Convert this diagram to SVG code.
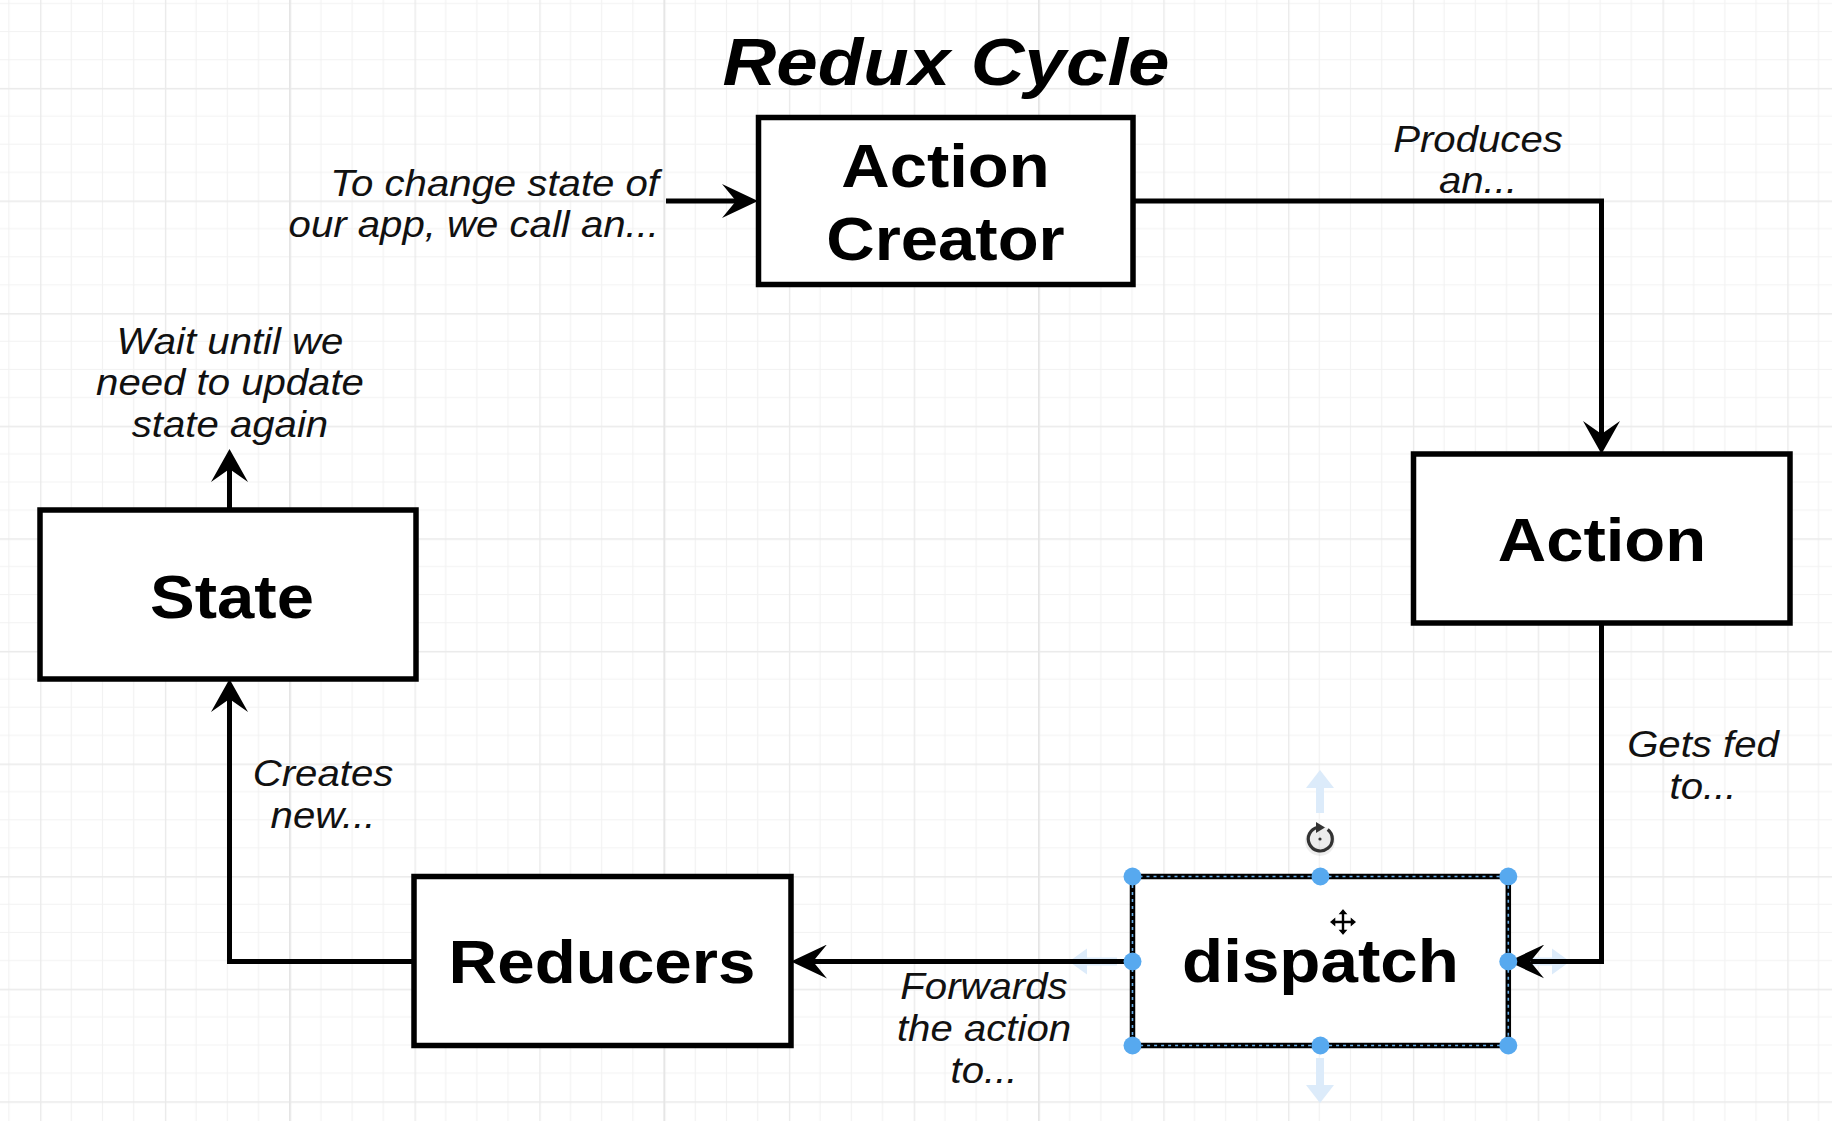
<svg xmlns="http://www.w3.org/2000/svg" width="1832" height="1121" viewBox="0 0 1832 1121">
<defs>
<pattern id="grid" patternUnits="userSpaceOnUse" x="40.1" y="87.9" width="124.8" height="112.6">
<path d="M31.2,0V112.6M62.4,0V112.6M93.6,0V112.6M0,28.15H124.8M0,56.3H124.8M0,84.45H124.8" stroke="#f2f2f2" stroke-width="1.2" fill="none"/>
<path d="M0.7,0V112.6M0,0.7H124.8" stroke="#eaeaea" stroke-width="1.4" fill="none"/>
</pattern>
<marker id="ah" markerUnits="userSpaceOnUse" viewBox="0 0 36 34" markerWidth="36" markerHeight="34" refX="14" refY="17" orient="auto"><path d="M0,0L36,17L0,34L14,17Z" fill="#000"/></marker>
<marker id="av" markerUnits="userSpaceOnUse" viewBox="0 0 33 37" markerWidth="33" markerHeight="37" refX="13" refY="18.5" orient="auto"><path d="M0,0L33,18.5L0,37L13,18.5Z" fill="#000"/></marker>
<style>
.box{fill:#fff;stroke:#000;stroke-width:5.5}
.node{font-family:"Liberation Sans",Arial,Helvetica,sans-serif;font-weight:bold;font-size:61.5px;fill:#000;text-anchor:middle}
.lbl{font-family:"Liberation Sans",Arial,Helvetica,sans-serif;font-style:italic;font-size:36.5px;fill:#111}
.title{font-family:"Liberation Sans",Arial,Helvetica,sans-serif;font-style:italic;font-weight:bold;font-size:66.5px;fill:#000;text-anchor:middle}
.edge{fill:none;stroke:#000;stroke-width:5}
.hover{fill:#dcebfa}
.handle{fill:#57a9ef}
</style>
</defs>
<rect width="1832" height="1121" fill="#fff"/>
<rect width="1832" height="1121" fill="url(#grid)"/>
<g stroke="#e5e5e5" stroke-width="1.4">
<path d="M289.7,0V1121M664.1,0V1121M1038.7,0V1121"/>
</g>

<g id="title"><g transform="translate(946,0) scale(1.12,1)"><text class="title" x="0" y="85">Redux Cycle</text></g></g>

<g id="hover-arrows">
<path class="hover" d="M1316,813V788H1306L1320,770L1334,788H1324V813Z"/>
<path class="hover" d="M1316,1058V1085H1306L1320,1103L1334,1085H1324V1058Z"/>
<path class="hover" d="M1117,957.5H1087V948.5L1069,961.5L1087,974.5V965.5H1117Z"/>
<path class="hover" d="M1524,957.5H1552V948.5L1570,961.5L1552,974.5V965.5H1524Z"/>
</g>

<g id="connectors">
<path class="edge" d="M666,201H736" marker-end="url(#ah)"/>
<path class="edge" d="M1133,201H1601.5V434" marker-end="url(#av)"/>
<path class="edge" d="M1601.5,623V961.5H1530.3" marker-end="url(#ah)"/>
<path class="edge" d="M1132.5,961.5H813" marker-end="url(#ah)"/>
<path class="edge" d="M414,961.5H229.5V699" marker-end="url(#av)"/>
<path class="edge" d="M229.5,510V469" marker-end="url(#av)"/>
</g>

<g id="edge-labels">
<g transform="translate(659,0) scale(1.1,1)"><text class="lbl" text-anchor="end"><tspan x="0" y="196">To change state of</tspan><tspan x="0" y="237">our app, we call an...</tspan></text></g>
<g transform="translate(230,0) scale(1.1,1)"><text class="lbl" text-anchor="middle"><tspan x="0" y="354">Wait until we</tspan><tspan x="0" y="395.5">need to update</tspan><tspan x="0" y="437">state again</tspan></text></g>
<g transform="translate(1478,0) scale(1.1,1)"><text class="lbl" text-anchor="middle"><tspan x="0" y="152">Produces</tspan><tspan x="0" y="193">an...</tspan></text></g>
<g transform="translate(1703,0) scale(1.1,1)"><text class="lbl" text-anchor="middle"><tspan x="0" y="757.5">Gets fed</tspan><tspan x="0" y="799.5">to...</tspan></text></g>
<g transform="translate(323,0) scale(1.1,1)"><text class="lbl" text-anchor="middle"><tspan x="0" y="786">Creates</tspan><tspan x="0" y="828">new...</tspan></text></g>
<g transform="translate(984,0) scale(1.1,1)"><text class="lbl" text-anchor="middle"><tspan x="0" y="999">Forwards</tspan><tspan x="0" y="1041.5">the action</tspan><tspan x="0" y="1083.5">to...</tspan></text></g>
</g>

<g id="action-creator">
<rect class="box" x="758.5" y="117.5" width="374.5" height="167"/>
<g transform="translate(945.5,0) scale(1.09,1)"><text class="node"><tspan x="0" y="187.5">Action</tspan><tspan x="0" y="260">Creator</tspan></text></g>
</g>

<g id="action">
<rect class="box" x="1413.5" y="454" width="376.5" height="169"/>
<g transform="translate(1602,0) scale(1.09,1)"><text class="node" x="0" y="561">Action</text></g>
</g>

<g id="state">
<rect class="box" x="40" y="510" width="376" height="169"/>
<g transform="translate(232,0) scale(1.09,1)"><text class="node" x="0" y="618">State</text></g>
</g>

<g id="reducers">
<rect class="box" x="414" y="876.5" width="377" height="169"/>
<g transform="translate(602,0) scale(1.095,1)"><text class="node" x="0" y="983">Reducers</text></g>
</g>

<g id="dispatch">
<rect class="box" x="1132.5" y="876.5" width="375.8" height="169"/>
<rect x="1132.5" y="876.5" width="375.8" height="169" fill="none" stroke="#6ab0ea" stroke-width="1.6" stroke-dasharray="3 4"/>
<g transform="translate(1320.5,0) scale(1.095,1)"><text class="node" x="0" y="982.5">dispatch</text></g>
<g id="selection-handles">
<circle class="handle" cx="1132.5" cy="876.5" r="9"/>
<circle class="handle" cx="1320.4" cy="876.5" r="9"/>
<circle class="handle" cx="1508.3" cy="876.5" r="9"/>
<circle class="handle" cx="1132.5" cy="961.5" r="9"/>
<circle class="handle" cx="1508.3" cy="961.5" r="9"/>
<circle class="handle" cx="1132.5" cy="1045.5" r="9"/>
<circle class="handle" cx="1320.4" cy="1045.5" r="9"/>
<circle class="handle" cx="1508.3" cy="1045.5" r="9"/>
</g>
<g id="rotate-icon">
<circle cx="1320" cy="841" r="15" fill="#000" opacity="0.07"/>
<path d="M1327.7,829.5A12,12 0 1 1 1317.9,827.2" fill="none" stroke="#333" stroke-width="3.2"/>
<path d="M1316,822L1325,827.5L1316,833Z" fill="#333"/>
<circle cx="1320" cy="839" r="1.6" fill="#333"/>
</g>
<g id="move-icon" transform="translate(1343,922)">
<path d="M-9,0H9M0,-9V9" stroke="#fff" stroke-width="6"/>
<path d="M-14,0L-7,-6V6Z M14,0L7,-6V6Z M0,-14L-6,-7H6Z M0,14L-6,7H6Z" fill="#000" stroke="#fff" stroke-width="1.4"/>
<path d="M-9,0H9M0,-9V9" stroke="#000" stroke-width="2.4"/>
</g>
</g>
</svg>
